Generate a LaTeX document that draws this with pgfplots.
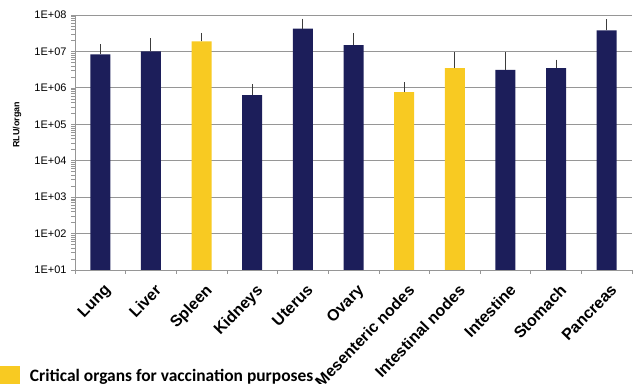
\documentclass[border=0pt]{standalone}
\usepackage{pgfplots}
\pgfplotsset{compat=1.18}
\usepackage{fontspec}
\setmainfont{Liberation Sans}
\newfontfamily\legfont{Carlito}
\definecolor{navy}{RGB}{28,30,90}
\definecolor{crit}{RGB}{248,202,34}
\definecolor{gridgray}{RGB}{150,150,150}
\definecolor{errgray}{RGB}{60,60,60}
\begin{document}
\begin{tikzpicture}
\useasboundingbox (0,0) rectangle (633bp,384bp);
\begin{axis}[
  at={(75bp,114bp)}, anchor=south west,
  scale only axis, width=557bp, height=255bp,
  ymode=log, ymin=1e1, ymax=1e8, log origin=infty,
  ytick={1e1,1e2,1e3,1e4,1e5,1e6,1e7,1e8},
  yticklabels={1E+01,1E+02,1E+03,1E+04,1E+05,1E+06,1E+07,1E+08},
  yticklabel style={font=\fontsize{11}{12}\selectfont, xshift=-1bp},
  xmin=-0.5, xmax=10.5,
  xtick={0,...,10},
  xticklabels={Lung,Liver,Spleen,Kidneys,Uterus,Ovary,Mesenteric nodes,Intestinal nodes,Intestine,Stomach,Pancreas},
  every x tick label/.style={xshift=3bp, yshift=-9bp, font=\bfseries\fontsize{16}{18}\selectfont, rotate=46, anchor=north east, inner sep=0bp},
  major x tick style={draw=none},
  minor xtick={-0.5,0.5,...,10.5},
  minor tick length=4bp,
  major tick length=4bp,
  tick align=outside,
  tick style={gridgray, line width=0.6bp},
  ymajorgrids, major grid style={gridgray, line width=0.9bp},
  axis lines*=left,
  axis line style={gridgray, line width=0.9bp},
  ylabel={RLU/organ},
  every axis y label/.style={font=\bfseries\fontsize{9}{10}\selectfont, at={(axis description cs:-0.104,0.57)}, anchor=center, rotate=90},
  ybar, bar width=20bp, bar shift=0pt,
  error bars/y dir=plus, error bars/y explicit,
  error bars/error bar style={errgray, line width=1bp},
  error bars/error mark options={errgray, line width=1bp, mark size=3.5bp},
  legend style={draw=none, fill=none, at={(axis description cs:-0.1347,-0.416)}, anchor=west, inner sep=0pt, outer sep=0pt,
    font=\legfont\bfseries\fontsize{17.5}{19}\selectfont, legend cell align=left},
  legend image code/.code={\fill[crit] (0bp,-10bp) rectangle (20bp,10bp);},
]
\addplot[fill=navy, draw=none, forget plot] coordinates {
  (0,8.3e6) +- (0,4.3e6)
  (1,1.0e7) +- (0,8.5e6)
  (3,6.3e5) +- (0,3.9e5)
  (4,4.2e7) +- (0,2.2e7)
  (5,1.5e7) +- (0,1.0e7)
  (8,3.1e6) +- (0,4.5e6)
  (9,3.5e6) +- (0,1.3e6)
  (10,3.8e7) +- (0,2.4e7)
};
\addplot[fill=crit, draw=none] coordinates {
  (2,1.9e7) +- (0,0.7e7)
  (6,7.6e5) +- (0,3.9e5)
  (7,3.5e6) +- (0,4.1e6)
};
\addlegendentry{\hspace{8bp}Critical organs for vaccination purposes}
\end{axis}
\end{tikzpicture}
\end{document}
